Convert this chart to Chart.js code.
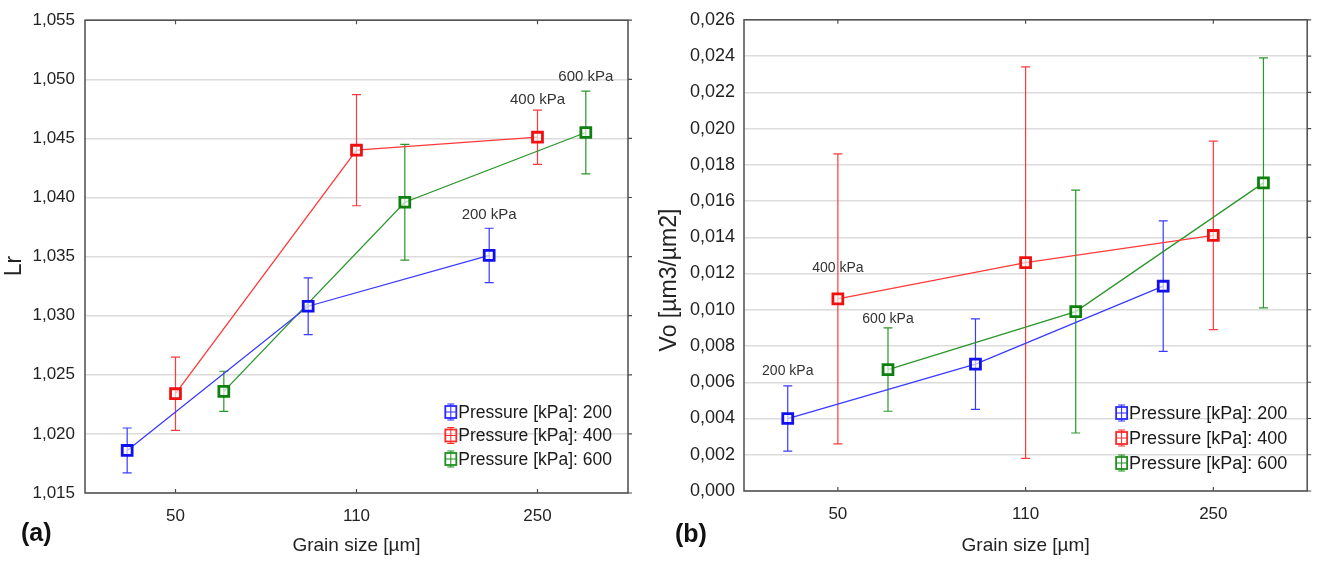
<!DOCTYPE html>
<html>
<head>
<meta charset="utf-8">
<script src="https://cdn.jsdelivr.net/npm/chart.js@4.4.1/dist/chart.umd.min.js"></script>
<style>
html,body{margin:0;padding:0;background:#fff;width:1317px;height:561px;overflow:hidden}
.wrap{position:absolute;top:0;height:561px}
#wa{left:0;width:658px}
#wb{left:658px;width:659px}
.tag{position:absolute;font:bold 25px 'Liberation Sans',Arial,sans-serif;color:#111;line-height:30px}
</style>
</head>
<body>
<div class="wrap" id="wa"><canvas id="ca"></canvas></div>
<div class="wrap" id="wb"><canvas id="cb"></canvas></div>
<div class="tag" style="left:21px;top:517px">(a)</div>
<div class="tag" style="left:675px;top:518px">(b)</div>
<script>
// ---------- data ----------
const categories = ['50', '110', '250'];
const seriesNames = ['Pressure [kPa]: 200', 'Pressure [kPa]: 400', 'Pressure [kPa]: 600'];

// (a) Lr
const lr200 = [1.0186, 1.0308, 1.0351];
const lr200Err = [0.0019, 0.0024, 0.0023];
const lr400 = [1.0234, 1.0440, 1.0451];
const lr400Err = [0.0031, 0.0047, 0.0023];
const lr600 = [1.0236, 1.0396, 1.0455];
const lr600Err = [0.0017, 0.0049, 0.0035];
const lrTicks = [1.015, 1.020, 1.025, 1.030, 1.035, 1.040, 1.045, 1.050, 1.055];
const lrNoteText = ['200 kPa', '400 kPa', '600 kPa'];
const lrNoteY = [1.0385, 1.0483, 1.0502];
const lrNotePoint = 2;

// (b) Vo
const vo200 = [0.0040, 0.0070, 0.0113];
const vo200Err = [0.0018, 0.0025, 0.0036];
const vo400 = [0.0106, 0.0126, 0.0141];
const vo400Err = [0.0080, 0.0108, 0.0052];
const vo600 = [0.0067, 0.0099, 0.0170];
const vo600Err = [0.0023, 0.0067, 0.0069];
const voTicks = [0, 0.002, 0.004, 0.006, 0.008, 0.010, 0.012, 0.014, 0.016, 0.018, 0.020, 0.022, 0.024, 0.026];
const voNoteText = ['200 kPa', '400 kPa', '600 kPa'];
const voNoteY = [0.0066, 0.0123, 0.0095];
const voNotePoint = 0;

// ---------- styling ----------
const FONT = "'Liberation Sans', Arial, sans-serif";
Chart.defaults.font.family = FONT;
Chart.defaults.color = '#222';
const lineColors = ['#3a3aff', '#ff3a3a', '#2a962a'];
const markColors = ['#1010f0', '#f01010', '#0e800e'];
const iconColors = ['#2a2aff', '#ff2a2a', '#1f8f1f'];
const offsets = [-0.267, 0, 0.267];

const decor = {
  id: 'decor',
  beforeDatasetsDraw(chart, args, o) {
    const ctx = chart.ctx, a = chart.chartArea, xs = chart.scales.x, ys = chart.scales.y;
    ctx.save();
    // frame
    ctx.strokeStyle = '#4d4d4d';
    ctx.lineWidth = 1.5;
    ctx.strokeRect(a.left, a.top, a.right - a.left, a.bottom - a.top);
    // tick marks
    ctx.lineWidth = 1.2;
    ctx.beginPath();
    categories.forEach((c, i) => {
      const px = xs.getPixelForValue(i + 1);
      ctx.moveTo(px, a.bottom); ctx.lineTo(px, a.bottom - 4);
      ctx.moveTo(px, a.top); ctx.lineTo(px, a.top + 4);
    });
    o.yticks.forEach(v => {
      const py = ys.getPixelForValue(v);
      ctx.moveTo(a.right, py); ctx.lineTo(a.right + 4, py);
    });
    ctx.stroke();
    // error bars
    chart.data.datasets.forEach((ds, di) => {
      ctx.strokeStyle = ds.borderColor;
      ctx.lineWidth = 1.2;
      ds.data.forEach((p, i) => {
        const e = o.errs[di][i];
        const px = xs.getPixelForValue(p.x);
        const yt = ys.getPixelForValue(p.y + e);
        const yb = ys.getPixelForValue(p.y - e);
        ctx.beginPath();
        ctx.moveTo(px, yt); ctx.lineTo(px, yb);
        ctx.moveTo(px - 4.5, yt); ctx.lineTo(px + 4.5, yt);
        ctx.moveTo(px - 4.5, yb); ctx.lineTo(px + 4.5, yb);
        ctx.stroke();
      });
    });
    ctx.restore();
  },
  afterDraw(chart, args, o) {
    const ctx = chart.ctx, a = chart.chartArea, xs = chart.scales.x, ys = chart.scales.y;
    ctx.save();
    // y axis title
    ctx.save();
    ctx.font = o.yTitleFont + 'px ' + FONT;
    ctx.fillStyle = '#222';
    ctx.textAlign = 'center';
    ctx.textBaseline = 'middle';
    ctx.translate(o.yTitleX, o.yTitleY);
    ctx.rotate(-Math.PI / 2);
    ctx.fillText(o.yTitle, 0, 0);
    ctx.restore();
    // point annotations
    ctx.font = o.noteFont + 'px ' + FONT;
    ctx.fillStyle = '#333';
    ctx.textAlign = 'center';
    ctx.textBaseline = 'middle';
    o.noteText.forEach((t, si) => {
      const p = chart.data.datasets[si].data[o.notePoint];
      ctx.fillText(t, xs.getPixelForValue(p.x), ys.getPixelForValue(o.noteY[si]));
    });
    // legend
    ctx.font = o.legFont + 'px ' + FONT;
    ctx.textAlign = 'left';
    let w = 0;
    seriesNames.forEach(s => { w = Math.max(w, ctx.measureText(s).width); });
    const tx = a.right - o.legRight - w;
    seriesNames.forEach((s, i) => {
      const cy = a.bottom - o.legBottom - (seriesNames.length - 1 - i) * o.legGap;
      const ix = tx - 14;
      ctx.strokeStyle = iconColors[i];
      ctx.lineWidth = 1.8;
      ctx.strokeRect(ix + 1, cy - 6, 11, 12);
      ctx.lineWidth = 1;
      ctx.beginPath();
      ctx.moveTo(ix + 6.5, cy - 8); ctx.lineTo(ix + 6.5, cy + 8);
      ctx.moveTo(ix + 1, cy); ctx.lineTo(ix + 12, cy);
      ctx.moveTo(ix + 3, cy - 8); ctx.lineTo(ix + 10, cy - 8);
      ctx.moveTo(ix + 3, cy + 8); ctx.lineTo(ix + 10, cy + 8);
      ctx.stroke();
      ctx.fillStyle = '#1a1a1a';
      ctx.fillText(s, tx, cy + 1);
    });
    ctx.restore();
  }
};

function makeDatasets(series, radius) {
  return series.map((vals, si) => ({
    label: seriesNames[si],
    data: vals.map((v, i) => ({ x: i + 1 + offsets[si], y: v })),
    showLine: true,
    borderColor: lineColors[si],
    borderWidth: 1.3,
    pointStyle: 'rect',
    pointRadius: radius,
    pointHoverRadius: radius,
    pointBorderWidth: 2.8,
    pointBorderColor: markColors[si],
    pointBackgroundColor: 'rgba(255,255,255,0.65)'
  }));
}

function makeChart(id, cfg) {
  return new Chart(document.getElementById(id), {
    type: 'scatter',
    data: { datasets: makeDatasets(cfg.series, cfg.radius) },
    options: {
      responsive: true,
      maintainAspectRatio: false,
      animation: false,
      events: [],
      layout: { padding: { top: cfg.padTop, right: cfg.padRight, left: 0, bottom: 0 } },
      plugins: {
        legend: { display: false },
        tooltip: { enabled: false },
        decor: {
          errs: cfg.errs, yticks: cfg.ticks,
          yTitle: cfg.yTitle, yTitleX: cfg.yTitleX, yTitleY: cfg.yTitleY, yTitleFont: 23,
          noteText: cfg.noteText, noteY: cfg.noteY, notePoint: cfg.notePoint, noteFont: cfg.noteFont,
          legFont: cfg.legFont, legRight: cfg.legRight, legBottom: cfg.legBottom, legGap: cfg.legGap
        }
      },
      scales: {
        x: {
          type: 'linear',
          min: 0.5, max: 3.5,
          afterBuildTicks: s => { s.ticks = categories.map((c, i) => ({ value: i + 1 })); },
          afterFit: s => { s.height = cfg.xHeight; },
          grid: { display: false, drawTicks: false },
          border: { display: false },
          ticks: {
            padding: 13, color: '#222', font: { size: 17 }, maxRotation: 0, autoSkip: false,
            callback: v => categories[Math.round(v) - 1]
          },
          title: { display: true, text: 'Grain size [µm]', color: '#222', font: { size: 19 }, padding: { top: 0, bottom: 4 } }
        },
        y: {
          type: 'linear',
          min: cfg.ticks[0], max: cfg.ticks[cfg.ticks.length - 1],
          afterBuildTicks: s => { s.ticks = cfg.ticks.map(v => ({ value: v })); },
          afterFit: s => { s.width = cfg.yWidth; },
          grid: { color: '#dcdcdc', lineWidth: 1.5, drawTicks: false },
          border: { display: false },
          ticks: {
            padding: cfg.yPad, color: '#222', font: { size: cfg.yFont },
            callback: v => v.toFixed(3).replace('.', ',')
          },
          title: { display: false }
        }
      }
    },
    plugins: [decor]
  });
}

makeChart('ca', {
  series: [lr200, lr400, lr600],
  errs: [lr200Err, lr400Err, lr600Err],
  ticks: lrTicks,
  yTitle: 'Lr', yTitleX: 15, yTitleY: 266,
  noteText: lrNoteText, noteY: lrNoteY, notePoint: lrNotePoint, noteFont: 15,
  radius: 7,
  padTop: 17, padRight: 30, yWidth: 85, xHeight: 68,
  yFont: 17, yPad: 10,
  legFont: 17.5, legRight: 16, legBottom: 34, legGap: 23.5
});

makeChart('cb', {
  series: [vo200, vo400, vo600],
  errs: [vo200Err, vo400Err, vo600Err],
  ticks: voTicks,
  yTitle: 'Vo [µm3/µm2]', yTitleX: 12, yTitleY: 280,
  noteText: voNoteText, noteY: voNoteY, notePoint: voNotePoint, noteFont: 14,
  radius: 7,
  padTop: 18, padRight: 6, yWidth: 86, xHeight: 70,
  yFont: 18, yPad: 9,
  legFont: 18, legRight: 20, legBottom: 28, legGap: 25
});
</script>
</body>
</html>
